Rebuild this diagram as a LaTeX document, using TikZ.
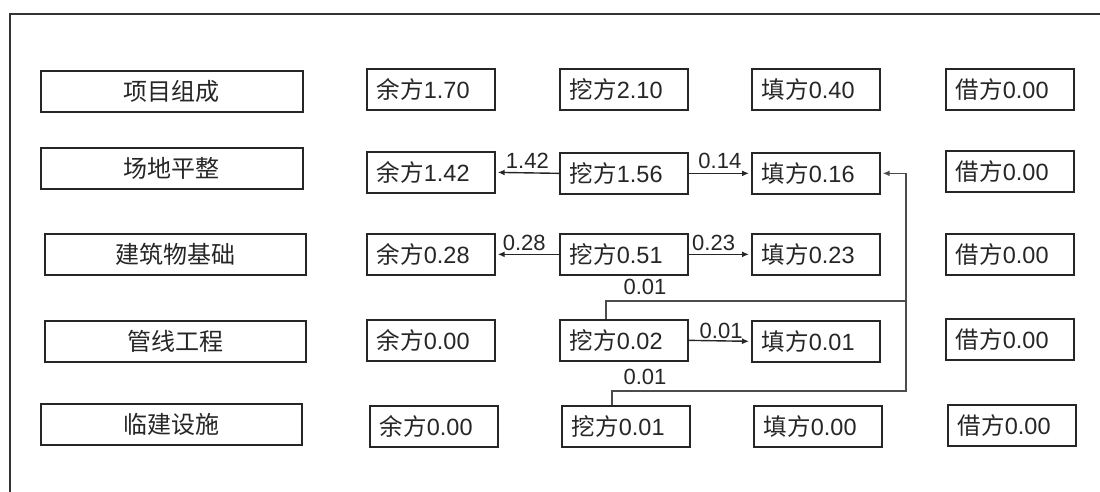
\documentclass[tikz,border=0pt]{standalone}
\usepackage{fontspec}
\setmainfont{Liberation Sans}
\newfontfamily\cjk{Noto Sans CJK SC}
\usetikzlibrary{arrows.meta}
\begin{document}
\begin{tikzpicture}[x=1pt,y=-1pt,
  every node/.style={font=\fontsize{23.5}{26}\selectfont, text=black!85},
  labelbox/.style={draw=black!85, line width=1.7pt, anchor=north west, minimum height=41pt, inner sep=0pt, font=\cjk\fontsize{24}{27}\selectfont},
  valbox/.style={draw=black!85, line width=1.7pt, anchor=north west, minimum height=41pt, inner ysep=0pt, inner xsep=10pt, text width=108pt, align=left},
  flow/.style={draw=black!85, line width=1.4pt, -{Latex[length=7pt,width=6pt]}, shorten >=2pt},
  link/.style={draw=black!70, line width=1.7pt},
  num/.style={inner sep=0pt, font=\fontsize{22}{25}\selectfont}]
\useasboundingbox (0,0) rectangle (1100,492);
\fill[white] (0,0) rectangle (1100,492);
% outer frame (right and bottom lie outside the picture)
\draw[black!80, line width=1.6pt] (10,492) -- (10,14) -- (1100,14);

% left labels
\node[labelbox, minimum width=262pt] (p1) at (40,70) {项目组成};
\node[labelbox, minimum width=262pt] (p2) at (40,147) {场地平整};
\node[labelbox, minimum width=261pt] (p3) at (44,233) {建筑物基础};
\node[labelbox, minimum width=261pt] (p4) at (44,320) {管线工程};
\node[labelbox, minimum width=261pt] (p5) at (40,403) {临建设施};

% 余方
\node[valbox] (y1) at (366,68) {{\cjk 余方}1.70};
\node[valbox] (y2) at (366,151) {{\cjk 余方}1.42};
\node[valbox] (y3) at (366,233) {{\cjk 余方}0.28};
\node[valbox] (y4) at (366,319) {{\cjk 余方}0.00};
\node[valbox] (y5) at (369,405) {{\cjk 余方}0.00};

% 挖方
\node[valbox] (w1) at (559,68) {{\cjk 挖方}2.10};
\node[valbox] (w2) at (559,152) {{\cjk 挖方}1.56};
\node[valbox] (w3) at (559,233) {{\cjk 挖方}0.51};
\node[valbox] (w4) at (559,319) {{\cjk 挖方}0.02};
\node[valbox] (w5) at (561,405) {{\cjk 挖方}0.01};

% 填方
\node[valbox] (f1) at (751,68) {{\cjk 填方}0.40};
\node[valbox] (f2) at (751,152) {{\cjk 填方}0.16};
\node[valbox] (f3) at (751,233) {{\cjk 填方}0.23};
\node[valbox] (f4) at (751,320) {{\cjk 填方}0.01};
\node[valbox] (f5) at (753,405) {{\cjk 填方}0.00};

% 借方
\node[valbox] (b1) at (945,68) {{\cjk 借方}0.00};
\node[valbox] (b2) at (945,150) {{\cjk 借方}0.00};
\node[valbox] (b3) at (945,233) {{\cjk 借方}0.00};
\node[valbox] (b4) at (945,318) {{\cjk 借方}0.00};
\node[valbox] (b5) at (947,404) {{\cjk 借方}0.00};

% flows
\draw[flow] (w2.west) -- node[num, above=4pt] (l1) {1.42} (y2.east);
\draw[flow] (w2.east) -- node[num, above=4pt] (l2) {0.14} (f2.west);
\draw[flow] (w3.west) -- node[num, above=3pt, pos=0.55] (l3) {0.28} (y3.east);
\draw[flow] (w3.east) -- node[num, above=3pt, pos=0.4] (l4) {0.23} (f3.west);
\draw[flow] (w4.east) -- node[num, above=1pt, pos=0.52] (l5) {0.01} (f4.west);

% return links to 填方0.16
\coordinate (j1) at (906,301);
\coordinate (j2) at (906,391);
\coordinate (t4) at ([xshift=-18pt]w4.north);
\coordinate (t5) at ([xshift=-14pt]w5.north);
\draw[link] (t5) |- (j2) -- (j1);
\draw[link, -{Latex[length=7pt,width=6pt]}, shorten >=2pt] (t4) |- (j1) |- (f2.east);
\node[num] (l6) at (645,287) {0.01};
\node[num] (l7) at (645,377) {0.01};
\end{tikzpicture}
\end{document}
